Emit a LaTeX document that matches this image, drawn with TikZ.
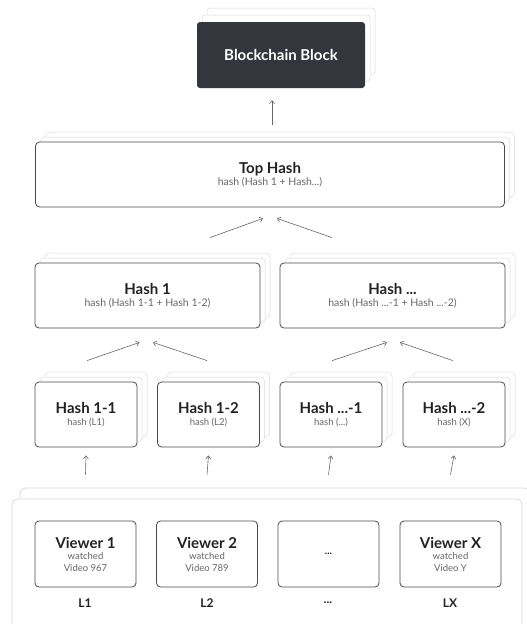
\documentclass[tikz,border=0pt]{standalone}
\usepackage{fontspec}
\setmainfont{Lato}
\usepackage{tikz}
\usetikzlibrary{arrows.meta}
\usetikzlibrary{shadows}

\definecolor{inkdark}{HTML}{33373D}
\definecolor{titlegray}{HTML}{222222}
\definecolor{subgray}{HTML}{666666}
\definecolor{edgegray}{HTML}{4A4A4A}
\definecolor{cardgray}{HTML}{DADADA}

\newcommand{\boxtitle}[1]{{\fontsize{15}{17}\selectfont\bfseries\color{titlegray}#1}}
\newcommand{\boxsub}[1]{{\fontsize{10.5}{12}\selectfont\color{subgray}#1}}
\newcommand{\leafsub}[1]{{\fontsize{9.5}{11}\selectfont\color{subgray}#1}}

\tikzset{
	stack/.style={double copy shadow={shadow xshift=5pt,shadow yshift=5pt,
		fill=white,draw=cardgray,line width=.5pt}},
	hashbox/.style={draw=edgegray,fill=white,line width=.8pt,rounded corners=4pt,
		align=center,inner sep=0pt,minimum height=65pt,stack},
	arr/.style={draw=subgray,line width=.6pt,-{Straight Barb[length=3pt,width=5pt]}}
}

\begin{document}
\begin{tikzpicture}[x=1pt,y=-1pt]
	\useasboundingbox (0,0) rectangle (527,624);

	% the leaves
	\node[draw=cardgray,fill=white,line width=.8pt,rounded corners=6pt,
	      minimum width=510pt,minimum height=142pt,
	      copy shadow={shadow xshift=8pt,shadow yshift=11pt,fill=white,draw=cardgray}]
	      (pool) at (267,570) {};

	\begin{scope}[every node/.style={draw=edgegray,fill=white,line width=.8pt,
	              rounded corners=4pt,align=center,minimum width=101pt,minimum height=66pt}]
		\node (v1) at (85.5,554) {\boxtitle{Viewer 1}\\[-1pt]\leafsub{watched}\\[0pt]\leafsub{Video 967}};
		\node (v2) at (207,554) {\boxtitle{Viewer 2}\\[-1pt]\leafsub{watched}\\[0pt]\leafsub{Video 789}};
		\node (v3) at (328.5,554) {\boxtitle{\fontsize{10}{10}\selectfont ...}};
		\node (vx) at (450.5,554) {\boxtitle{Viewer X}\\[-1pt]\leafsub{watched}\\[0pt]\leafsub{Video Y}};
	\end{scope}

	\begin{scope}[every node/.style={font=\fontsize{12}{13}\selectfont\bfseries,text=titlegray}]
		\node (l1) at (85,603) {L1};
		\node (l2) at (207,603) {L2};
		\node (l3) at (328,603) {...};
		\node (lx) at (450,603) {LX};
	\end{scope}

	% hashes of the leaves
	\begin{scope}[every node/.style={hashbox,minimum width=102pt}]
		\node (h11) at (86,414.5) {\boxtitle{Hash 1-1}\\\leafsub{hash (L1)}};
		\node (h12) at (208.5,414.5) {\boxtitle{Hash 1-2}\\\leafsub{hash (L2)}};
		\node (hd1) at (331,414.5) {\boxtitle{Hash ...-1}\\\leafsub{hash (...)}};
		\node (hd2) at (454,414.5) {\boxtitle{Hash ...-2}\\\leafsub{hash (X)}};
	\end{scope}

	\begin{scope}[every node/.style={hashbox,minimum width=225pt}]
		\node (h1) at (147.5,295.5) {\boxtitle{Hash 1}\\\boxsub{hash (Hash 1-1 + Hash 1-2)}};
		\node (hd) at (392.5,295.5) {\boxtitle{Hash ...}\\\boxsub{hash (Hash ...-1 + Hash ...-2)}};
	\end{scope}

	\node[hashbox,minimum width=469pt] (top) at (270,174.5)
		{\boxtitle{Top Hash}\\\boxsub{hash (Hash 1 + Hash...)}};

	\node[fill=inkdark,rounded corners=3pt,minimum width=168pt,minimum height=66pt,
	      double copy shadow={shadow xshift=5pt,shadow yshift=7pt,fill=white,draw=cardgray,line width=.5pt},
	      font=\fontsize{15}{17}\selectfont\bfseries,text=white]
	      (block) at (281,55) {Blockchain Block};

	% arrows
	\begin{scope}[every path/.style={arr}]
		\draw ([yshift=46pt]v1.north) -- ([yshift=-8pt]h11.south);
		\draw ([yshift=46pt]v2.north) -- ([yshift=-8pt]h12.south);
		\draw ([yshift=46pt]v3.north) -- ([yshift=-8pt]hd1.south);
		\draw ([yshift=46pt]vx.north) -- ([yshift=-8pt]hd2.south);

		\draw ([xshift=1pt,yshift=21pt]h11.north) -- ([xshift=-8pt,yshift=-14pt]h1.south);
		\draw ([xshift=-1.5pt,yshift=21pt]h12.north) -- ([xshift=5.5pt,yshift=-14pt]h1.south);
		\draw ([xshift=1pt,yshift=21pt]hd1.north) -- ([xshift=-5.5pt,yshift=-14pt]hd.south);
		\draw ([xshift=-1pt,yshift=21pt]hd2.north) -- ([xshift=7.5pt,yshift=-14pt]hd.south);

		\draw ([xshift=62.5pt,yshift=25pt]h1.north) -- ([xshift=-7pt,yshift=-11pt]top.south);
		\draw ([xshift=-60.5pt,yshift=25pt]hd.north) -- ([xshift=7pt,yshift=-11pt]top.south);

		\draw ([xshift=2pt,yshift=17pt]top.north) -- ([xshift=-9pt,yshift=-12pt]block.south);
	\end{scope}
\end{tikzpicture}
\end{document}
